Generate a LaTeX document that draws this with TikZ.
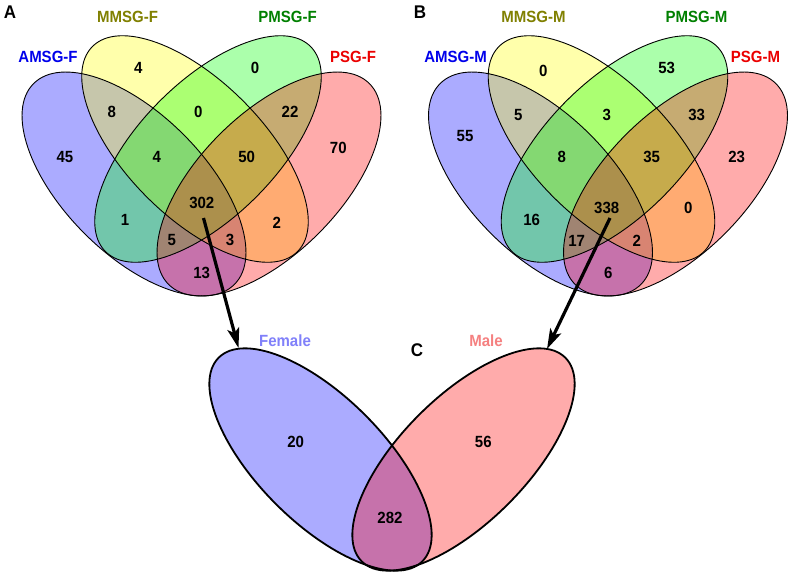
\documentclass[tikz,border=0pt]{standalone}
\usepackage{graphicx}
\usepackage{fontspec}
\setmainfont{Liberation Sans}
\usetikzlibrary{arrows.meta}
\definecolor{setA}{RGB}{0,0,255}
\definecolor{setB}{RGB}{255,255,0}
\definecolor{setC}{RGB}{0,255,0}
\definecolor{setD}{RGB}{255,0,0}
\definecolor{labA}{RGB}{0,0,235}
\definecolor{labB}{RGB}{128,128,0}
\definecolor{labC}{RGB}{0,128,0}
\definecolor{labD}{RGB}{235,0,0}
\definecolor{labF}{RGB}{128,128,250}
\definecolor{labM}{RGB}{245,128,128}
% slightly tall lettering
\newcommand{\tall}[1]{\scalebox{1}[1.08]{#1}}
% one ellipse: style, centre x, centre y, angle, semi-major, semi-minor
\newcommand{\vellipse}[6]{%
  \path[#1,shift={(#2,#3)},rotate=#4] (0,0) ellipse [x radius=#5pt, y radius=#6pt];}
% the four sets of a panel, drawn with a given style per set and a horizontal offset
\newcommand{\quadsets}[5]{%
  \vellipse{#1,xshift=#5pt}{134}{184}{-45}{142}{70}
  \vellipse{#2,xshift=#5pt}{195}{149}{-45}{145}{68}
  \vellipse{#3,xshift=#5pt}{208}{149}{45}{145}{68}
  \vellipse{#4,xshift=#5pt}{269}{184}{45}{142}{70}}
\begin{document}
\begin{tikzpicture}[x=1pt,y=-1pt,
  txt/.style={font=\fontsize{15}{18}\selectfont\bfseries, inner sep=0pt},
  num/.style={txt, text=black},
  setlabel/.style={txt, text=#1},
  panel/.style={font=\fontsize{17}{20}\selectfont\bfseries, inner sep=0pt},
  venfill/.style={fill=#1, fill opacity=0.33},
  outline/.style={draw=black, line width=0.9pt},
  bigoutline/.style={draw=black, line width=1.8pt},
  pointer/.style={line width=3.2pt, -{Stealth[length=20pt,width=12pt,inset=4.5pt]}}
]
\useasboundingbox (0,0) rectangle (792,576);
\fill[white] (0,0) rectangle (792,576);

% ---- panel A: female sets ----
\quadsets{venfill=setA}{venfill=setB}{venfill=setC}{venfill=setD}{0}
\quadsets{outline}{outline}{outline}{outline}{0}

% ---- panel B: male sets ----
\quadsets{venfill=setA}{venfill=setB}{venfill=setC}{venfill=setD}{406.5}
\quadsets{outline}{outline}{outline}{outline}{406.5}

% ---- panel C: female vs male ----
\vellipse{venfill=setA}{320.5}{459.5}{-45}{144}{63}
\vellipse{venfill=setD}{463.5}{459.5}{45}{144}{63}
\vellipse{bigoutline}{320.5}{459.5}{-45}{144}{63}
\vellipse{bigoutline}{463.5}{459.5}{45}{144}{63}

% panel letters
\node[panel] (pA) at (10,12) {\tall{A}};
\node[panel] (pB) at (420,12) {\tall{B}};
\node[panel] (pC) at (417,350) {\tall{C}};

% set names, panel A
\node[setlabel=labA] (lAa) at (48,57) {\tall{AMSG-F}};
\node[setlabel=labB] (lAb) at (127.5,17) {\tall{MMSG-F}};
\node[setlabel=labC] (lAc) at (287.5,17) {\tall{PMSG-F}};
\node[setlabel=labD] (lAd) at (353,57) {\tall{PSG-F}};

% set names, panel B
\node[setlabel=labA] (lBa) at (455.5,57) {\tall{AMSG-M}};
\node[setlabel=labB] (lBb) at (533.5,17) {\tall{MMSG-M}};
\node[setlabel=labC] (lBc) at (696.5,17) {\tall{PMSG-M}};
\node[setlabel=labD] (lBd) at (755.5,57) {\tall{PSG-M}};

% set names, panel C
\node[setlabel=labF] (lCf) at (285,341) {\tall{Female}};
\node[setlabel=labM] (lCm) at (486,341) {\tall{Male}};

% region counts, panel A
\node[num] (nA45)   at (65,157)    {\tall{45}};
\node[num] (nA4b)   at (138.3,68.3) {\tall{4}};
\node[num] (nA0c)   at (255,68.3)  {\tall{0}};
\node[num] (nA8)    at (111.7,111.7) {\tall{8}};
\node[num] (nA0bc)  at (198.3,111.7) {\tall{0}};
\node[num] (nA22)   at (290,111.7) {\tall{22}};
\node[num] (nA70)   at (338.3,148.3) {\tall{70}};
\node[num] (nA4abc) at (156.7,156.7) {\tall{4}};
\node[num] (nA50)   at (246.7,156.7) {\tall{50}};
\node[num] (nA302)  at (201.8,202.5) {\tall{302}};
\node[num] (nA1)    at (125,220)   {\tall{1}};
\node[num] (nA2)    at (276.7,223.3) {\tall{2}};
\node[num] (nA5)    at (171.7,240) {\tall{5}};
\node[num] (nA3)    at (230,240)   {\tall{3}};
\node[num] (nA13)   at (201.7,273.3) {\tall{13}};

% region counts, panel B
\node[num] (nB55)   at (465,136)   {\tall{55}};
\node[num] (nB0b)   at (543.3,70.7) {\tall{0}};
\node[num] (nB53)   at (666.7,68.3) {\tall{53}};
\node[num] (nB5)    at (518.3,115) {\tall{5}};
\node[num] (nB3)    at (606.7,115) {\tall{3}};
\node[num] (nB33)   at (696.7,115) {\tall{33}};
\node[num] (nB8)    at (561.7,156.7) {\tall{8}};
\node[num] (nB35)   at (651.7,156.7) {\tall{35}};
\node[num] (nB23)   at (736.7,156.7) {\tall{23}};
\node[num] (nB338)  at (606.7,208.3) {\tall{338}};
\node[num] (nB16)   at (531.7,220) {\tall{16}};
\node[num] (nB0bd)  at (688.3,208.3) {\tall{0}};
\node[num] (nB17)   at (576.7,240.7) {\tall{17}};
\node[num] (nB2)    at (636.7,240.7) {\tall{2}};
\node[num] (nB6)    at (608.3,273.3) {\tall{6}};

% region counts, panel C
\node[num] (nC20)  at (295.7,441.7) {\tall{20}};
\node[num] (nC56)  at (483.3,441.7) {\tall{56}};
\node[num] (nC282) at (390,518.3)   {\tall{282}};

% pointers from the shared cores to panel C
\coordinate (fromF) at (203.5,218);
\coordinate (toF)   at (238.5,348);
\coordinate (fromM) at (610,218);
\coordinate (toM)   at (547,349);
\draw[pointer] (fromF) -- (toF);
\draw[pointer] (fromM) -- (toM);
\end{tikzpicture}
\end{document}
